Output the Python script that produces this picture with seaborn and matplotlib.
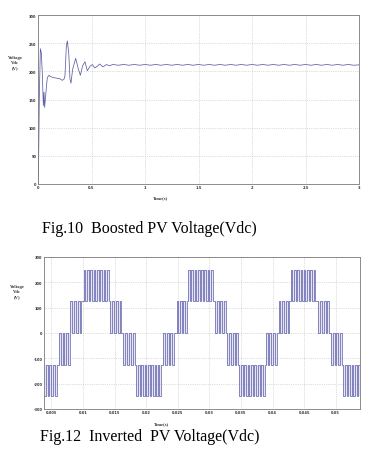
import numpy as np
import pandas as pd
import matplotlib
matplotlib.use("Agg")
import matplotlib.pyplot as plt
import seaborn as sns

# ---------------- data: Fig.10 boosted PV voltage ----------------
boost_t = [0.000, 0.006, 0.012, 0.022, 0.031, 0.040, 0.050, 0.056, 0.062, 0.078,
           0.087, 0.103, 0.115, 0.140, 0.171, 0.202, 0.227, 0.243, 0.252, 0.265,
           0.274, 0.287, 0.299, 0.308, 0.324, 0.352, 0.377, 0.396, 0.417, 0.439,
           0.461, 0.486, 0.508, 0.530, 0.554, 0.576, 0.607, 0.639, 0.670]
boost_v = [0, 45, 151, 240, 233, 198, 139, 163, 136, 171,
           189, 193, 191, 189, 188, 187, 184, 186, 192, 245,
           254, 233, 186, 179, 204, 223, 204, 193, 210, 217,
           201, 209, 212, 206, 209, 213, 208, 212, 210]
steady_t = [0.70, 0.75, 0.80, 0.85, 0.90, 0.95, 1.00, 1.05, 1.10, 1.15, 1.20, 1.25,
            1.30, 1.35, 1.40, 1.45, 1.50, 1.55, 1.60, 1.65, 1.70, 1.75, 1.80, 1.85,
            1.90, 1.95, 2.00, 2.05, 2.10, 2.15, 2.20, 2.25, 2.30, 2.35, 2.40, 2.45,
            2.50, 2.55, 2.60, 2.65, 2.70, 2.75, 2.80, 2.85, 2.90, 2.95, 3.00]
steady_v = [212.2, 210.8, 212.2, 210.8, 212.2, 210.8, 212.2, 210.8, 212.2, 210.8, 212.2, 210.8,
            212.2, 210.8, 212.2, 210.8, 212.2, 210.8, 212.2, 210.8, 212.2, 210.8, 212.2, 210.8,
            212.2, 210.8, 212.2, 210.8, 212.2, 210.8, 212.2, 210.8, 212.2, 210.8, 212.2, 210.8,
            212.2, 210.8, 212.2, 210.8, 212.2, 210.8, 212.2, 210.8, 212.2, 210.8, 211.5]
boost_xticks = [0, 0.5, 1, 1.5, 2, 2.5, 3]
boost_xlabels = ["0", "0.5", "1", "1.5", "2", "2.5", "3"]
boost_yticks = [0, 50, 100, 150, 200, 250, 300]

# ---------------- data: Fig.12 inverted PV voltage (multilevel PWM bands) ----------------
band_start = [0.00384, 0.00621, 0.00802, 0.01013, 0.01435, 0.01635, 0.01847, 0.02269,
              0.02481, 0.02665, 0.03088, 0.03283, 0.03473, 0.03895, 0.04097, 0.04287,
              0.04724, 0.04925, 0.05120]
band_end = [0.00585, 0.00791, 0.00976, 0.01409, 0.01610, 0.01820, 0.02237, 0.02443,
            0.02639, 0.03051, 0.03262, 0.03457, 0.03875, 0.04065, 0.04265, 0.04676,
            0.04898, 0.05095, 0.05384]
band_low = [-250, -125, 0, 125, 0, -125, -250, -125, 0, 125, 0, -125, -250, -125, 0, 125,
            0, -125, -250]
band_high = [-125, 0, 125, 250, 125, 0, -125, 0, 125, 250, 125, 0, -125, 0, 125, 250,
             125, 0, -125]
inv_xticks = [0.005, 0.01, 0.015, 0.02, 0.025, 0.03, 0.035, 0.04, 0.045, 0.05]
inv_xlabels = ["0.005", "0.01", "0.015", "0.02", "0.025", "0.03", "0.035", "0.04", "0.045", "0.05"]
inv_yticks = [-300, -200, -100, 0, 100, 200, 300]

# ---------------- build PWM step signal from bands ----------------
edge_step = 0.00026
sig_t, sig_v = [], []
n = len(band_start)
for i in range(n):
    lo, hi = band_low[i], band_high[i]
    if i == 0:
        start_level = hi
    else:
        start_level = lo if lo in (band_low[i-1], band_high[i-1]) else hi
    if i == n - 1:
        end_level = lo
    else:
        end_level = lo if lo in (band_low[i+1], band_high[i+1]) else hi
    width = band_end[i] - band_start[i]
    ne = max(2, int(round(width / edge_step)))
    same = (start_level == end_level)
    if same and ne % 2 == 1:
        ne += 1
    if (not same) and ne % 2 == 0:
        ne += 1
    edges = np.linspace(band_start[i], band_end[i], ne)
    level = start_level
    for e in edges:
        level = hi if level == lo else lo
        sig_t.append(e)
        sig_v.append(level)
    sig_v[-1] = end_level

inv_df = pd.DataFrame({"t": sig_t, "v": sig_v})
boost_df = pd.DataFrame({"t": boost_t + steady_t, "v": boost_v + steady_v})

# ---------------- figure ----------------
sns.set_theme(style="white")
plt.rcParams["font.family"] = ["DejaVu Sans"]
fig = plt.figure(figsize=(3.68, 4.64), dpi=100)
fig.patch.set_facecolor("white")

ax1 = fig.add_axes([38/368, 1-185/464, (359-38)/368, (185-16)/464])
ax2 = fig.add_axes([44/368, 1-410/464, (360-44)/368, (410-258)/464])

sns.lineplot(data=boost_df, x="t", y="v", ax=ax1, estimator=None, sort=False,
             color="#5c5ca4", lw=0.55)

# light band fill behind the switching edges
for s, e, lo, hi in zip(band_start, band_end, band_low, band_high):
    ax2.fill_between([s, e], [lo, lo], [hi, hi], color="#d6d6ec", alpha=0.6, lw=0)
sns.lineplot(data=inv_df, x="t", y="v", ax=ax2, estimator=None, sort=False,
             color="#5a5aaa", lw=0.5, drawstyle="steps-post")

def style(ax, xticks, xlabels, yticks, xlim, ylim):
    ax.set_xlim(*xlim)
    ax.set_ylim(*ylim)
    ax.set_xticks(xticks)
    ax.set_xticklabels(xlabels)
    ax.set_yticks(yticks)
    ax.set_yticklabels([str(y) for y in yticks])
    ax.grid(True, ls=":", lw=0.5, color="#bcbcbc")
    for s in ax.spines.values():
        s.set_color("#7a7a7a")
        s.set_linewidth(0.6)
        s.set_visible(True)
    ax.tick_params(axis="both", labelsize=2.6, length=1.5, width=0.5, pad=1,
                   colors="#333333", direction="in")
    for lab in ax.get_xticklabels() + ax.get_yticklabels():
        lab.set_fontweight("bold")
    ax.set_xlabel("")
    ax.set_ylabel("")

style(ax1, boost_xticks, boost_xlabels, boost_yticks, (0, 3), (0, 300))
style(ax2, inv_xticks, inv_xlabels, inv_yticks, (0.00384, 0.05384), (-300, 300))

lab_kw = dict(family="Liberation Serif", fontsize=3.3, fontweight="bold",
              color="#333333", ha="center", va="center", linespacing=1.3)
fig.text(15/368, 1-63/464, "Voltage\nVdc\n(V)", **lab_kw)
fig.text(17/368, 1-292/464, "Voltage\nVdc\n(V)", **lab_kw)
fig.text(161/368, 1-198/464, "Time(s)", **lab_kw)
fig.text(162/368, 1-424/464, "Time(s)", **lab_kw)

cap_kw = dict(family="Liberation Serif", fontsize=11.5, color="black",
              ha="left", va="center")
fig.text(42/368, 1-229/464, "Fig.10  Boosted PV Voltage(Vdc)", **cap_kw)
fig.text(40/368, 1-437/464, "Fig.12  Inverted  PV Voltage(Vdc)", **cap_kw)

fig.savefig("out.png", dpi=100, facecolor="white")
